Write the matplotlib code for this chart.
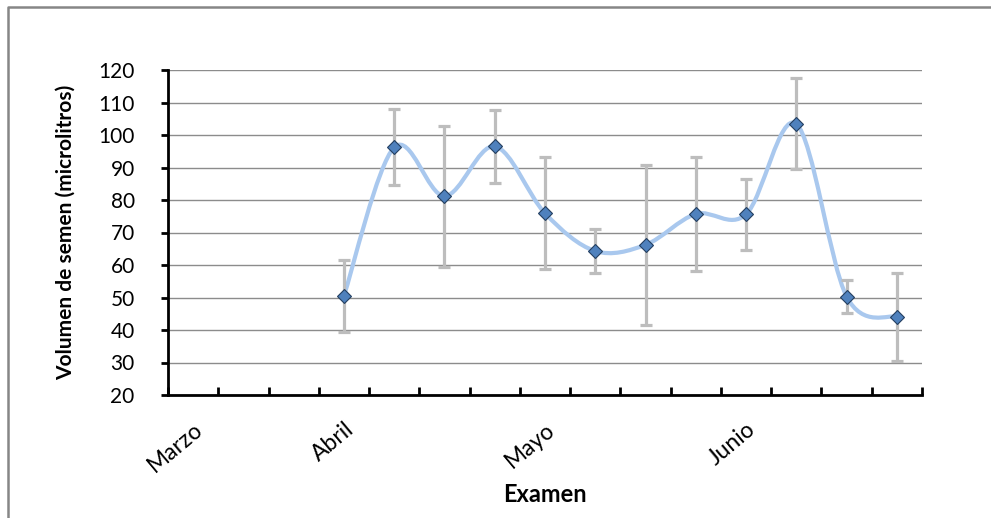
import matplotlib.pyplot as plt
from matplotlib.path import Path
from matplotlib.patches import PathPatch
from matplotlib.lines import Line2D

plt.rcParams['font.family'] = ['Lato', 'DejaVu Sans']

# categories (15 exam slots), labels only on some of them
categories = ['Marzo', '', '', 'Abril', '', '', '', 'Mayo', '', '', '', 'Junio', '', '', '']
# exams with data (index into categories)
exam_idx = [3, 4, 5, 6, 7, 8, 9, 10, 11, 12, 13, 14]
volume = [50.5, 96.2, 81.2, 96.5, 75.9, 64.3, 66.2, 75.7, 75.6, 103.4, 50.3, 44.0]
error = [11.0, 11.7, 21.7, 11.3, 17.2, 6.8, 24.7, 17.5, 11.0, 14.0, 5.0, 13.5]

fig = plt.figure(figsize=(9.91, 5.18), dpi=100)
ax = fig.add_axes([168 / 991, 1 - 395 / 518, (922 - 168) / 991, (395 - 70) / 518])

ax.set_xlim(0, len(categories))
ax.set_ylim(20, 120)
ax.set_yticks(range(20, 121, 10))
ax.yaxis.grid(True, color='#8c8c8c', linewidth=1.0)
ax.set_axisbelow(True)

# smoothed line (Excel style bezier through the points)
xs = [i + 0.5 for i in exam_idx]
pts = list(zip(xs, volume))
verts = [pts[0]]
codes = [Path.MOVETO]
for i in range(len(pts) - 1):
    p0 = pts[i - 1] if i > 0 else pts[i]
    p1 = pts[i]
    p2 = pts[i + 1]
    p3 = pts[i + 2] if i + 2 < len(pts) else pts[i + 1]
    c1 = (p1[0] + (p2[0] - p0[0]) / 6, p1[1] + (p2[1] - p0[1]) / 6)
    c2 = (p2[0] - (p3[0] - p1[0]) / 6, p2[1] - (p3[1] - p1[1]) / 6)
    verts += [c1, c2, p2]
    codes += [Path.CURVE4] * 3
ax.add_patch(PathPatch(Path(verts, codes), fill=False, edgecolor='#a9c8ee',
                       linewidth=3, zorder=3, capstyle='round', joinstyle='round'))

ax.errorbar(xs, volume, yerr=error, fmt='none', ecolor='#bdbdbd',
            elinewidth=2.3, capsize=4.5, capthick=2.3, zorder=4)
ax.plot(xs, volume, linestyle='none', marker='D', markersize=7,
        markerfacecolor='#4f81bd', markeredgecolor='#243f60',
        markeredgewidth=0.8, zorder=5)

# x axis: ticks at category boundaries, labels at centers
ax.set_xticks(range(len(categories) + 1))
ax.set_xticklabels([])
ax.set_xticks([i + 0.5 for i in range(len(categories))], minor=True)
ax.set_xticklabels(categories, minor=True, rotation=40, ha='right',
                   rotation_mode='anchor', fontsize=16.5)
ax.tick_params(axis='x', which='major', direction='in', length=6, width=2, color='black')
ax.tick_params(axis='x', which='minor', length=0, pad=17)
ax.tick_params(axis='y', direction='out', length=5, width=2, labelsize=15, pad=19)

for s in ['top', 'right']:
    ax.spines[s].set_visible(False)
for s in ['left', 'bottom']:
    ax.spines[s].set_linewidth(2)

ax.set_xlabel('Examen', fontsize=17, fontweight='bold', labelpad=5)
ax.set_ylabel('Volumen de semen (microlitros)', fontsize=15, fontweight='bold', labelpad=16)

# outer chart frame (partially cropped in original)
fig.add_artist(Line2D([8 / 991, 8 / 991, 1.0], [0.0, 1 - 7 / 518, 1 - 7 / 518],
                      transform=fig.transFigure, color='#868686', linewidth=1.8))

fig.savefig('out.png', dpi=100)
